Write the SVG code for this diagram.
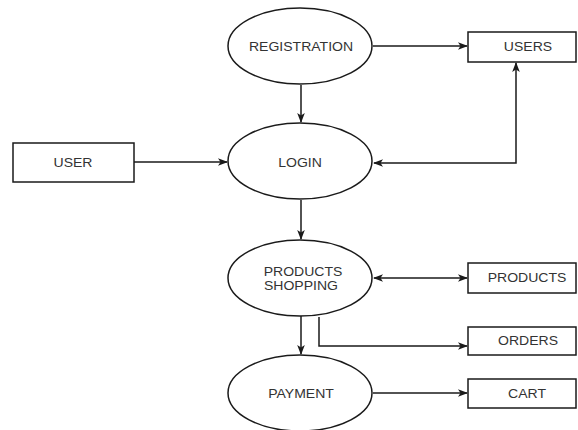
<svg xmlns="http://www.w3.org/2000/svg" width="578" height="430" viewBox="0 0 578 430">
<defs>
<style>
.n{fill:#fff;stroke:#1a1a1a;stroke-width:1.5}
.c{fill:none;stroke:#1a1a1a;stroke-width:1.5}
.t{font-family:"Liberation Sans",Arial,sans-serif;font-size:12px;fill:#333;text-anchor:middle}
</style>
<marker id="a" viewBox="0 0 10 10" refX="9" refY="5" markerWidth="10" markerHeight="10" markerUnits="userSpaceOnUse" orient="auto-start-reverse">
<path d="M0,1.2 L10,5 L0,8.8 L2.5,5 Z" fill="#1a1a1a"/>
</marker>
</defs>
<rect width="578" height="430" fill="#fff"/>
<g id="connectors">
<path class="c" d="M373,46 H467" marker-end="url(#a)"/>
<path class="c" d="M301,85 V122" marker-end="url(#a)"/>
<path class="c" d="M134,162 H227" marker-end="url(#a)"/>
<path class="c" d="M374,163 H516 V63" marker-start="url(#a)" marker-end="url(#a)"/>
<path class="c" d="M301,200 V239" marker-end="url(#a)"/>
<path class="c" d="M374,278 H467" marker-start="url(#a)" marker-end="url(#a)"/>
<path class="c" d="M319,317 V346 H467" marker-end="url(#a)"/>
<path class="c" d="M301,316 V354" marker-end="url(#a)"/>
<path class="c" d="M373,393 H467" marker-end="url(#a)"/>
</g>
<g id="registration">
<ellipse class="n" cx="300" cy="46" rx="72" ry="38"/>
<text class="t" transform="translate(301,51) scale(1.17,1)">REGISTRATION</text>
</g>
<g id="users">
<rect class="n" x="468" y="32" width="108" height="30"/>
<text class="t" transform="translate(528,51) scale(1.17,1)">USERS</text>
</g>
<g id="login">
<ellipse class="n" cx="300" cy="161" rx="72" ry="38"/>
<text class="t" transform="translate(300,167) scale(1.17,1)">LOGIN</text>
</g>
<g id="user">
<rect class="n" x="13" y="143" width="121" height="39"/>
<text class="t" transform="translate(73,167) scale(1.17,1)">USER</text>
</g>
<g id="products-shopping">
<ellipse class="n" cx="300" cy="278" rx="72" ry="38"/>
<text class="t" transform="translate(303,276) scale(1.17,1)">PRODUCTS</text>
<text class="t" transform="translate(301,290) scale(1.17,1)">SHOPPING</text>
</g>
<g id="products">
<rect class="n" x="468" y="263" width="108" height="30"/>
<text class="t" transform="translate(527,282) scale(1.17,1)">PRODUCTS</text>
</g>
<g id="orders">
<rect class="n" x="468" y="327" width="108" height="28"/>
<text class="t" transform="translate(528,345) scale(1.17,1)">ORDERS</text>
</g>
<g id="payment">
<ellipse class="n" cx="300" cy="393" rx="72" ry="38"/>
<text class="t" transform="translate(301,398) scale(1.17,1)">PAYMENT</text>
</g>
<g id="cart">
<rect class="n" x="468" y="379" width="108" height="29"/>
<text class="t" transform="translate(527,398) scale(1.17,1)">CART</text>
</g>
</svg>
